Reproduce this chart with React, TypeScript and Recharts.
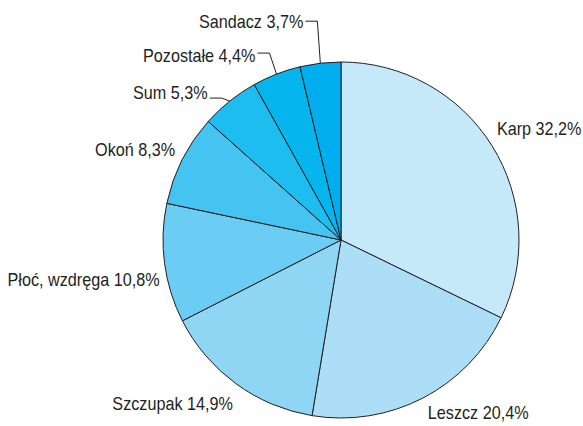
import React from 'react';
import { PieChart, Pie, Cell } from 'recharts';

const species = ['Karp', 'Leszcz', 'Szczupak', 'Płoć, wzdręga', 'Okoń', 'Sum', 'Pozostałe', 'Sandacz'];
const shares = [32.2, 20.4, 14.9, 10.8, 8.3, 5.3, 4.4, 3.7];
const colors = ['#c6e9f9', '#acdff7', '#8fd5f4', '#6ccdf4', '#45c4f2', '#1dbdf0', '#05b5ee', '#00aeef'];

// label placement relative to the slice's outer midpoint (tdy = text shift from leader line)
const labelOffsets = [
  { dx: 5, dy: -16, anchor: 'start', leader: false, tdy: 0 },
  { dx: 5, dy: 15, anchor: 'start', leader: false, tdy: 0 },
  { dx: -3, dy: 21, anchor: 'end', leader: false, tdy: 0 },
  { dx: -5, dy: 17, anchor: 'end', leader: false, tdy: 0 },
  { dx: -7, dy: -9, anchor: 'end', leader: false, tdy: 0 },
  { dx: -8, dy: -3, anchor: 'end', leader: true, tdy: -5 },
  { dx: -7, dy: -21, anchor: 'end', leader: true, tdy: 3 },
  { dx: -3, dy: -42, anchor: 'end', leader: true, tdy: 1 },
];

const data = species.map((name, i) => ({ name, value: shares[i] }));

const RADIAN = Math.PI / 180;
const FONT = "'Liberation Sans', Arial, sans-serif";
const SQUEEZE = 0.9;

const Label = ({ x, y, anchor, text }: { x: number; y: number; anchor: string; text: string }) => (
  <g transform={`translate(${x},${y}) scale(${SQUEEZE},1)`}>
    <text x={0} y={0} textAnchor={anchor as any} dominantBaseline="central" fontSize={18} fontFamily={FONT} fill="#231f20">
      {text}
    </text>
  </g>
);

const renderLabel = (props: any) => {
  const { cx, cy, midAngle, outerRadius, index } = props;
  const px = cx + outerRadius * Math.cos(-midAngle * RADIAN);
  const py = cy + outerRadius * Math.sin(-midAngle * RADIAN);
  const o = labelOffsets[index];
  const text = `${species[index]} ${shares[index].toFixed(1).replace('.', ',')}%`;
  if (o.leader) {
    const ex = px + o.dx;
    const ey = py + o.dy;
    return (
      <g key={`lbl-${index}`}>
        <polyline points={`${ex - 12},${ey} ${ex},${ey} ${px},${py}`} fill="none" stroke="#231f20" strokeWidth={1} />
        <Label x={ex - 14} y={ey + o.tdy} anchor="end" text={text} />
      </g>
    );
  }
  return <Label key={`lbl-${index}`} x={px + o.dx} y={py + o.dy} anchor={o.anchor} text={text} />;
};

const App: React.FC = () => {
  return (
    <div style={{ position: 'absolute', left: 0, top: 0, width: 583, height: 426, background: '#fff' }}>
      <PieChart width={583} height={426} margin={{ top: 0, right: 0, bottom: 0, left: 0 }}>
        <Pie
          data={data}
          dataKey="value"
          cx={341}
          cy={240}
          outerRadius={178}
          startAngle={90}
          endAngle={-270}
          stroke="#231f20"
          strokeWidth={1}
          labelLine={false}
          label={renderLabel}
          isAnimationActive={false}
        >
          {data.map((entry, index) => (
            <Cell key={`cell-${index}`} fill={colors[index]} />
          ))}
        </Pie>
      </PieChart>
    </div>
  );
};

export default App;
